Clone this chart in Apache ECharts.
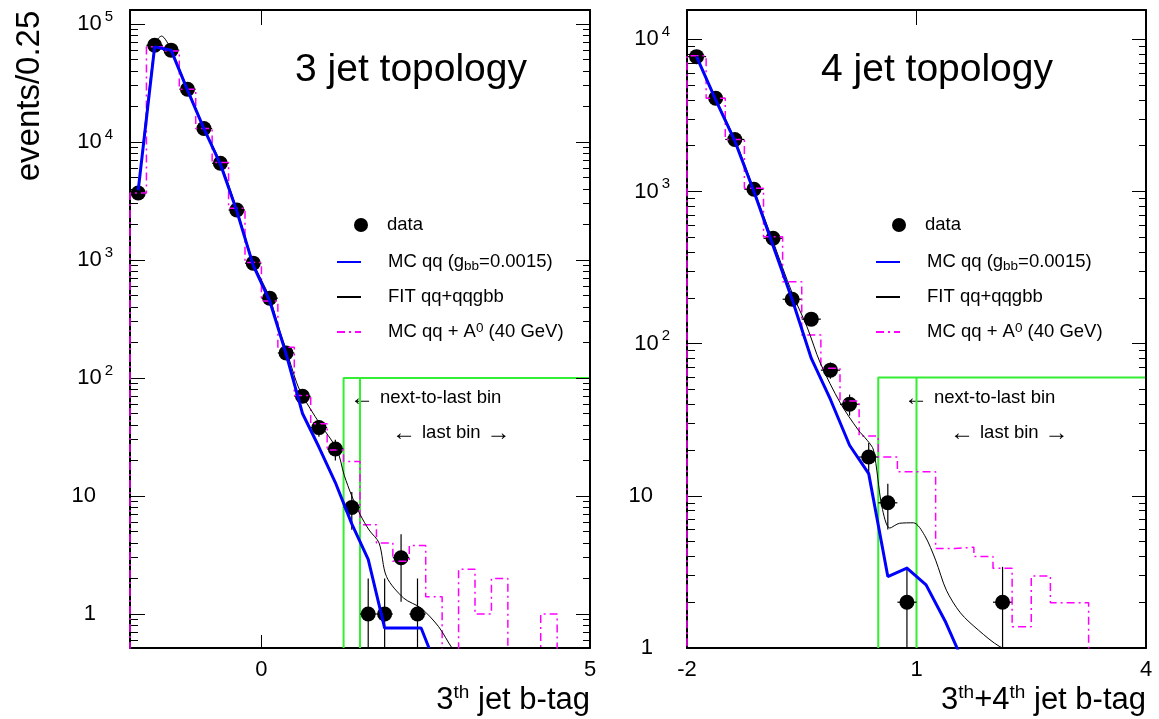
<!DOCTYPE html>
<html><head><meta charset="utf-8">
<script src="https://cdn.jsdelivr.net/npm/echarts@6/dist/echarts.min.js"></script>
<style>html,body{margin:0;padding:0;background:#fff}#c{width:1159px;height:719px}</style>
</head><body><div id="c"></div>
<script>
// ================= DATA =================
const BIN_W = 0.25;          // histogram bin width (events/0.25)
const HIST_START = -2;       // first bin lower edge

// ---- Left panel: 3 jet topology ----
const xDataL = [-1.875,-1.625,-1.375,-1.125,-0.875,-0.625,-0.375,-0.125,0.125,0.375,0.625,0.875,1.125,1.375,1.625,1.875,2.125,2.375];
const yDataL = [3700,66000,60000,28000,13000,6600,2650,940,475,163,70,38,25,8,1,1,3,1];

const xMcL = [-1.875,-1.625,-1.375,-1.125,-0.875,-0.625,-0.375,-0.125,0.125,0.375,0.625,0.875,1.125,1.375,1.625,1.875,2.43,2.55];
const yMcL = [3900,64000,60000,27500,13000,6500,2600,900,450,160,50,26,13,5.8,2.9,0.76,0.76,0.515];

const xFitL = [-1.875,-1.625,-1.52,-1.375,-1.125,-0.875,-0.625,-0.375,-0.125,0.125,0.283,0.375,0.537,0.633,0.875,1.146,1.26,1.375,1.5,1.638,1.79,1.904,2.167,2.43,2.697,2.9,3.0];
const yFitL = [3800,66000,79000,60500,28500,13300,6700,2700,960,480,247,175,91,69.5,42,25,15,10,7,5.15,4.0,2.07,1.36,1.12,0.78,0.515,0.45];

const a0L = [3700,64000,59000,28000,13000,6700,2750,950,450,182,71,41,24.5,19.6,5.7,4.0,2.8,3.8,1.4,0,2.4,1.0,2.0,0,0,1.0,0,0];

const boxL = {x0: 1.25, x1: 1.5, x2: 5, top: 100};

// ---- Right panel: 4 jet topology ----
const xDataR = [-1.875,-1.625,-1.375,-1.125,-0.875,-0.625,-0.375,-0.125,0.125,0.375,0.625,0.875,2.125];
const yDataR = [7700,4100,2200,1035,493,196,145,67,40,18,9,2,2];

const xMcR = [-1.875,-1.625,-1.375,-1.125,-0.875,-0.625,-0.375,-0.125,0.125,0.375,0.625,0.875,1.125,1.375,1.625];
const yMcR = [7700,4000,2150,1000,440,195,80,43,21.5,14,2.95,3.35,2.6,1.5,0.78];

const xFitR = [-1.875,-1.625,-1.375,-1.125,-0.875,-0.625,-0.431,-0.257,0.005,0.241,0.355,0.438,0.548,0.651,0.778,0.959,1.106,1.25,1.39,1.575,1.81,2.09,2.3];
const yFitR = [7800,4100,2200,1030,470,215,129,74.5,40.7,27,23.2,20,8.5,6.14,6.6,6.65,5.5,3.78,2.4,1.7,1.31,1.02,0.95];

const a0R = [7800,4100,2200,1050,505,255,114,69,42,24.7,18,14.4,14.4,4.5,4.6,4.0,3.34,1.38,2.97,1.98,1.98,0,0,0];

const boxR = {x0: 0.5, x1: 1.0, x2: 4, top: 60};

// ---- axes ----
const xRangeL = [-2, 5], xLabelsL = [0, 5], xTopTicksL = [0];
const xRangeR = [-2, 4], xLabelsR = [-2, 1, 4], xTopTicksR = [1];
const yRangeL = [0.515, 131400], yMajorL = [1, 10, 100, 1000, 10000, 100000];
const yRangeR = [1, 15600], yMajorR = [1, 10, 100, 1000, 10000];

// ---- names ----
const N_DATA = 'data';
const N_MC = 'MC qq (gbb=0.0015)';
const N_FIT = 'FIT qq+qqgbb';
const N_A0 = 'MC qq + A0 (40 GeV)';

// ================= BUILD =================
const FONT = '"Liberation Sans", Arial, Helvetica, sans-serif';
const zip = (a, b) => a.map((v, i) => [v, b[i]]);
function minorTicks(range) {
  const out = [];
  for (let e = -2; e <= 6; e++) {
    const d = Math.pow(10, e);
    for (let m = 2; m <= 9; m++) {
      const v = m * d;
      if (v > range[0] && v < range[1]) out.push(v);
    }
  }
  return out;
}
function histPoints(vals, floor) {
  const pts = [[HIST_START, floor]];
  vals.forEach((v, i) => pts.push([HIST_START + i * BIN_W, v > 0 ? v : floor]));
  const last = vals[vals.length - 1];
  pts.push([HIST_START + vals.length * BIN_W, last > 0 ? last : floor]);
  return pts;
}
function logLabel(v) {
  const lg = Math.log10(v), n = Math.round(lg);
  if (Math.abs(lg - n) > 1e-6) return '';
  if (n === 0) return '{p|1}';
  if (n === 1) return '{p|10}';
  return '{b|10}{e|' + n + '}';
}
const yLabelRich = {
  b: {fontSize: 22, lineHeight: 30, verticalAlign: 'middle', fontFamily: FONT, color: '#000'},
  e: {fontSize: 15, lineHeight: 14, verticalAlign: 'top', padding: [0, 0, 0, 3], fontFamily: FONT, color: '#000'},
  p: {fontSize: 22, lineHeight: 30, verticalAlign: 'middle', padding: [0, 17, 0, 0], fontFamily: FONT, color: '#000'}
};
const AX_LINE = {show: true, onZero: false, lineStyle: {color: '#000', width: 2}};
const NO_LINE = {show: false, onZero: false};

function xAxes(gi, range, labels, topTicks) {
  return [
    {type: 'value', gridIndex: gi, position: 'bottom', min: range[0], max: range[1],
     axisLine: AX_LINE, splitLine: {show: false},
     axisTick: {show: true, inside: true, length: 13, customValues: labels, lineStyle: {color: '#000', width: 1}},
     axisLabel: {show: true, customValues: labels, fontSize: 22, fontFamily: FONT, color: '#000', margin: 11}},
    {type: 'value', gridIndex: gi, position: 'top', min: range[0], max: range[1],
     axisLine: AX_LINE, splitLine: {show: false},
     axisTick: {show: true, inside: true, length: 15, customValues: topTicks, lineStyle: {color: '#000', width: 1}},
     axisLabel: {show: false}}
  ];
}
function yAxes(gi, range, majors) {
  const minors = minorTicks(range);
  const base = {type: 'log', logBase: 10, gridIndex: gi, min: range[0], max: range[1], splitLine: {show: false}, minorTick: {show: false}};
  return [
    Object.assign({}, base, {position: 'left', axisLine: AX_LINE,
      axisTick: {show: true, inside: true, length: 15, customValues: majors, lineStyle: {color: '#000', width: 1}},
      axisLabel: {show: true, customValues: majors, formatter: logLabel, rich: yLabelRich, margin: 17}}),
    Object.assign({}, base, {position: 'left', axisLine: NO_LINE,
      axisTick: {show: true, inside: true, length: 8, customValues: minors, lineStyle: {color: '#000', width: 1}},
      axisLabel: {show: false}}),
    Object.assign({}, base, {position: 'right', z: 6, axisLine: AX_LINE,
      axisTick: {show: true, inside: true, length: 14, customValues: majors, lineStyle: {color: '#000', width: 1}},
      axisLabel: {show: false}}),
    Object.assign({}, base, {position: 'right', axisLine: NO_LINE,
      axisTick: {show: true, inside: true, length: 7, customValues: minors, lineStyle: {color: '#000', width: 1}},
      axisLabel: {show: false}})
  ];
}

function errRender(yMin) {
  return function (params, api) {
    const x = api.value(0), v = api.value(1);
    const s = Math.sqrt(v);
    const lo = Math.max(v - s, yMin), hi = v + s;
    const a = api.coord([x, lo]), b = api.coord([x, hi]);
    const l = api.coord([x - BIN_W / 2, v]), r = api.coord([x + BIN_W / 2, v]);
    return {type: 'group', children: [
      {type: 'line', shape: {x1: a[0], y1: a[1], x2: b[0], y2: b[1]}, style: {stroke: '#000', lineWidth: 1.2}},
      {type: 'line', shape: {x1: l[0], y1: l[1], x2: r[0], y2: r[1]}, style: {stroke: '#000', lineWidth: 1.2}}
    ]};
  };
}

function panelSeries(xi, yi, yMin, d) {
  const floor = yMin / 100;
  return [
    {type: 'line', xAxisIndex: xi, yAxisIndex: yi, silent: true, z: 1, symbol: 'none',
     lineStyle: {color: '#33ee33', width: 2},
     data: [[d.box.x0, yMin], [d.box.x0, d.box.top], [d.box.x2, d.box.top], [d.box.x2, yMin]]},
    {type: 'line', xAxisIndex: xi, yAxisIndex: yi, silent: true, z: 1, symbol: 'none',
     lineStyle: {color: '#33ee33', width: 2},
     data: [[d.box.x1, yMin], [d.box.x1, d.box.top]]},
    {type: 'custom', xAxisIndex: xi, yAxisIndex: yi, z: 2, silent: true,
     renderItem: errRender(yMin), data: zip(d.xd, d.yd)},
    {name: N_DATA, type: 'scatter', xAxisIndex: xi, yAxisIndex: yi, z: 2, symbol: 'circle', symbolSize: 15,
     itemStyle: {color: '#000', opacity: 1}, data: zip(d.xd, d.yd)},
    {name: N_A0, type: 'line', xAxisIndex: xi, yAxisIndex: yi, z: 3, symbol: 'none', step: 'end',
     lineStyle: {color: '#ff00ff', width: 1.5, type: [8, 4, 2, 4]}, itemStyle: {color: '#ff00ff'},
     data: histPoints(d.a0, floor)},
    {name: N_FIT, type: 'line', xAxisIndex: xi, yAxisIndex: yi, z: 3, symbol: 'none', smooth: 0.3,
     lineStyle: {color: '#000', width: 1}, itemStyle: {color: '#000'},
     data: zip(d.xf, d.yf)},
    {name: N_MC, type: 'line', xAxisIndex: xi, yAxisIndex: yi, z: 4, symbol: 'none',
     lineStyle: {color: '#0000ff', width: 3}, itemStyle: {color: '#0000ff'},
     data: zip(d.xm, d.ym)}
  ];
}

const legendRich = {
  f1: {fontSize: 18.5, lineHeight: 22, verticalAlign: 'middle', padding: [0, 0, 0, 14], fontFamily: FONT, color: '#000'},
  f2: {fontSize: 18.5, lineHeight: 22, verticalAlign: 'middle', padding: [0, 0, 0, 22], fontFamily: FONT, color: '#000'},
  m: {fontSize: 18.5, lineHeight: 22, verticalAlign: 'middle', fontFamily: FONT, color: '#000'},
  sub: {fontSize: 13.5, lineHeight: 12, verticalAlign: 'bottom', fontFamily: FONT, color: '#000'},
  sup: {fontSize: 13.5, lineHeight: 12, verticalAlign: 'top', fontFamily: FONT, color: '#000'}
};
function legendFmt(name) {
  if (name === N_DATA) return '{f1|data}';
  if (name === N_MC) return '{f2|MC qq (g}{sub|bb}{m|=0.0015)}';
  if (name === N_FIT) return '{f2|FIT qq+qqgbb}';
  return '{f2|MC qq + A}{sup|0}{m| (40 GeV)}';
}
function legends(leftData, leftLines) {
  const common = {orient: 'vertical', padding: 0, selectedMode: false, formatter: legendFmt,
    textStyle: {fontSize: 18.5, lineHeight: 22, fontFamily: FONT, color: '#000', rich: legendRich}};
  return [
    Object.assign({}, common, {left: leftData, top: 214, itemWidth: 14, itemHeight: 14, data: [N_DATA],
      itemStyle: {opacity: 1}}),
    Object.assign({}, common, {left: leftLines, top: 251, itemWidth: 24, itemHeight: 14, itemGap: 13,
      itemStyle: {opacity: 0}, data: [N_MC, N_FIT, N_A0]})
  ];
}

const axTitleRich = {
  b: {fontSize: 31, lineHeight: 34, verticalAlign: 'middle', fontFamily: FONT, color: '#000'},
  s: {fontSize: 19, lineHeight: 14, verticalAlign: 'top', fontFamily: FONT, color: '#000'}
};
const annRich = {
  t: {fontSize: 18.5, lineHeight: 22, verticalAlign: 'middle', padding: [0, 6, 0, 6], fontFamily: FONT, color: '#000'},
  a: {fontSize: 24, lineHeight: 22, verticalAlign: 'middle', fontFamily: FONT, color: '#000'}
};
function txt(x, y, text, size) {
  return {type: 'text', x: x, y: y, silent: true,
    style: {text: text, fontSize: size, fontFamily: FONT, fill: '#000', align: 'left', verticalAlign: 'middle'}};
}
function ann(x, y, text) {
  return {type: 'text', x: x, y: y, silent: true,
    style: {text: text, rich: annRich, align: 'left', verticalAlign: 'middle'}};
}

const option = {
  animation: false,
  backgroundColor: '#fff',
  textStyle: {fontFamily: FONT},
  grid: [
    {left: 130, top: 10, width: 460, height: 638},
    {left: 687, top: 10, width: 459, height: 638}
  ],
  xAxis: [].concat(xAxes(0, xRangeL, xLabelsL, xTopTicksL), xAxes(1, xRangeR, xLabelsR, xTopTicksR)),
  yAxis: [].concat(yAxes(0, yRangeL, yMajorL), yAxes(1, yRangeR, yMajorR)),
  legend: [].concat(legends(354, 336), legends(892, 875)),
  series: [].concat(
    panelSeries(0, 0, yRangeL[0], {xd: xDataL, yd: yDataL, xm: xMcL, ym: yMcL, xf: xFitL, yf: yFitL, a0: a0L, box: boxL}),
    panelSeries(2, 4, yRangeR[0], {xd: xDataR, yd: yDataR, xm: xMcR, ym: yMcR, xf: xFitR, yf: yFitR, a0: a0R, box: boxR})
  ),
  graphic: [
    {type: 'text', x: 29.5, y: 96, rotation: Math.PI / 2, silent: true,
     style: {text: 'events/0.25', fontSize: 33, fontFamily: FONT, fill: '#000', align: 'center', verticalAlign: 'middle'}},
    txt(295, 70, '3 jet topology', 39),
    txt(821, 70, '4 jet topology', 39),
    ann(350, 398, '{a|\u2190}{t|next-to-last bin}'),
    ann(392, 433, '{a|\u2190}{t|last bin}{a|\u2192}'),
    ann(904, 398, '{a|\u2190}{t|next-to-last bin}'),
    ann(950, 433, '{a|\u2190}{t|last bin}{a|\u2192}'),
    {type: 'text', x: 590, y: 717, silent: true,
     style: {text: '{b|3}{s|th}{b| jet b-tag}', rich: axTitleRich, align: 'right', verticalAlign: 'bottom'}},
    {type: 'text', x: 1146, y: 717, silent: true,
     style: {text: '{b|3}{s|th}{b|+4}{s|th}{b| jet b-tag}', rich: axTitleRich, align: 'right', verticalAlign: 'bottom'}}
  ]
};

const chart = echarts.init(document.getElementById('c'), null, {renderer: 'canvas'});
chart.setOption(option);
</script>
</body></html>
